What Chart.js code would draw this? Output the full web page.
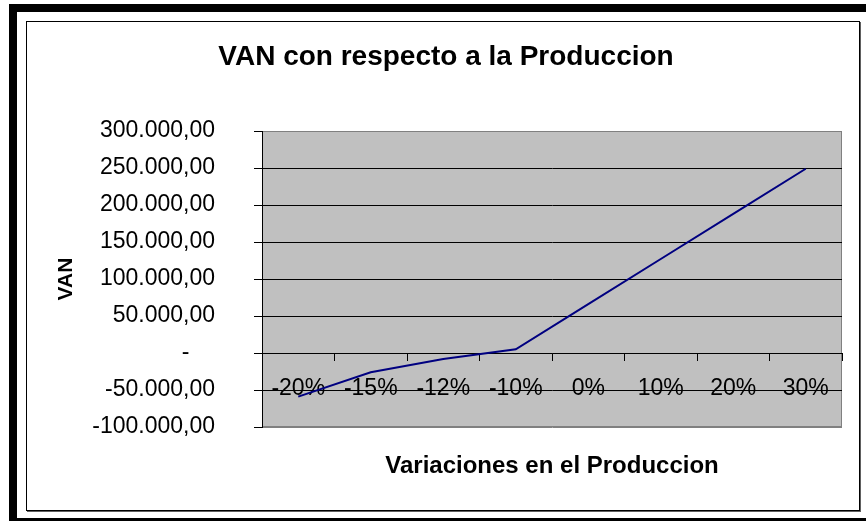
<!DOCTYPE html>
<html><head><meta charset="utf-8">
<script src="https://cdn.jsdelivr.net/npm/chart.js@4.4.1/dist/chart.umd.min.js"></script>
<style>
html,body{margin:0;padding:0;background:#fff;}
#wrap{position:relative;width:866px;height:521px;overflow:hidden;background:#fff;}
.blk{position:absolute;background:#000;}
#frame{position:absolute;left:26px;top:21px;width:832px;height:488px;border:1px solid #000;box-shadow:1px 1px 0 #606060;}
canvas{position:absolute;left:0;top:0;}
</style></head><body>
<div id="wrap">
<div class="blk" style="left:9px;top:4px;width:857px;height:8px"></div>
<div class="blk" style="left:9px;top:4px;width:8px;height:517px"></div>
<div class="blk" style="left:9px;top:518px;width:857px;height:3px"></div>
<div id="frame"></div>
<canvas id="c" width="866" height="521"></canvas>
</div>
<script>
const categories = ['-20%', '-15%', '-12%', '-10%', '0%', '10%', '20%', '30%'];
const vanValues = [-59000, -26000, -8000, 5000, 66000, 127000, 188000, 249000];
const yTickValues = [-100000, -50000, 0, 50000, 100000, 150000, 200000, 250000, 300000];
const chartTitle = 'VAN con respecto a la Produccion';
const xTitle = 'Variaciones en el Produccion';
const yTitle = 'VAN';

const FONT = "'Liberation Sans', Arial, sans-serif";

function fmt(v) {
  if (v === 0) return '-\u2007\u2007';
  const neg = v < 0;
  const s = Math.abs(v).toFixed(0).replace(/\B(?=(\d{3})+(?!\d))/g, '.');
  return (neg ? '-' : '') + s + ',00';
}

const plotBg = {
  id: 'plotBg',
  beforeDraw(chart) {
    const {ctx, chartArea: a} = chart;
    ctx.save();
    ctx.fillStyle = '#C0C0C0';
    ctx.fillRect(a.left, a.top, a.width, a.height);
    ctx.strokeStyle = '#808080';
    ctx.lineWidth = 1;
    ctx.strokeRect(a.left + 0.5, a.top + 0.5, a.width - 1, a.height - 1);
    ctx.restore();
  }
};

const yMin = yTickValues[0], yMax = yTickValues[yTickValues.length - 1];

new Chart(document.getElementById('c'), {
  type: 'line',
  data: {
    labels: categories,
    datasets: [{
      data: vanValues,
      borderColor: '#000080',
      borderWidth: 2,
      pointRadius: 0,
      tension: 0,
      fill: false
    }]
  },
  options: {
    responsive: false,
    animation: false,
    devicePixelRatio: 1,
    layout: {padding: {left: 50, right: 24, top: 21, bottom: 11}},
    plugins: {
      legend: {display: false},
      tooltip: {enabled: false},
      title: {
        display: true, text: chartTitle, color: '#000',
        font: {family: FONT, size: 28, weight: 'bold'},
        padding: {top: 19.2, bottom: 57.2}
      },
      subtitle: {
        display: true, text: xTitle, color: '#000', position: 'bottom', fullSize: false,
        font: {family: FONT, size: 24, weight: 'bold'},
        padding: {top: 24.6, bottom: 29.6}
      }
    },
    scales: {
      x: {
        type: 'category',
        position: {y: 0},
        offset: true,
        grid: {display: true, drawOnChartArea: false, drawTicks: true, tickLength: 7, offset: true, color: '#000'},
        border: {display: true, color: '#000', width: 1},
        ticks: {color: '#000', font: {family: FONT, size: 23}, padding: 15, maxRotation: 0, autoSkip: false}
      },
      y: {
        min: yMin, max: yMax,
        afterBuildTicks(s) { s.ticks = yTickValues.map(v => ({value: v})); },
        afterFit(s) { s.width = 212; },
        grid: {
          color: c => (c.tick && (c.tick.value === yMin || c.tick.value === yMax)) ? '#808080' : '#000',
          tickColor: '#000', tickLength: 8, lineWidth: 1
        },
        border: {display: true, color: '#000', width: 1},
        ticks: {color: '#000', font: {family: FONT, size: 23}, padding: 39, callback: v => fmt(v)},
        title: {display: true, text: yTitle, color: '#000', font: {family: FONT, size: 21, weight: 'bold'}, padding: {top: 3.4, bottom: 0}}
      }
    }
  },
  plugins: [plotBg]
});
</script>
</body></html>
